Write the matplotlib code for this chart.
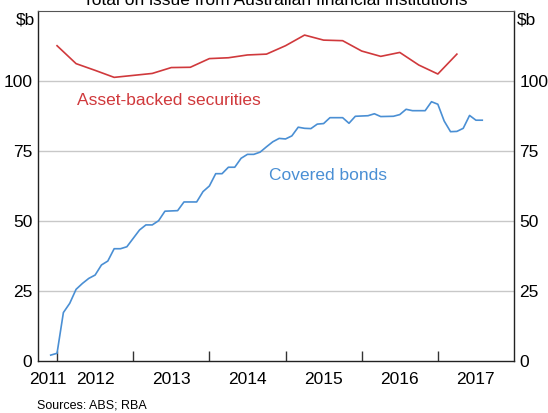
import pandas as pd
import matplotlib
matplotlib.use("Agg")
import matplotlib.pyplot as plt
import numpy as np

plt.rcParams["font.family"] = ["Liberation Sans", "DejaVu Sans"]

# Covered bonds, monthly from Dec 2011 ($b)
covered = [2.1, 2.75, 17.3, 20.6, 25.6, 27.7, 29.5, 30.7, 34.3, 35.7,
           40.1, 40.1, 40.8, 43.8, 46.8, 48.6, 48.6, 50.1, 53.5, 53.6,
           53.7, 56.8, 56.8, 56.8, 60.5, 62.5, 66.9, 66.9, 69.2, 69.2,
           72.4, 73.8, 73.8, 74.6, 76.5, 78.3, 79.5, 79.3, 80.4, 83.5,
           83.1, 83.0, 84.6, 84.8, 86.9, 86.9, 86.9, 84.9, 87.4, 87.5,
           87.6, 88.3, 87.3, 87.35, 87.4, 88.0, 89.9, 89.4, 89.4, 89.4,
           92.6, 91.7, 85.7, 81.9, 82.0, 83.1, 87.7, 86.0, 86.0]
# Asset-backed securities, quarterly from Jan 2012 ($b)
abs_sec = [112.6, 106.2, 103.8, 101.3, 102.0, 102.7, 104.8, 104.9,
           108.0, 108.3, 109.3, 109.6, 112.6, 116.4, 114.6, 114.4,
           110.7, 108.8, 110.2, 105.7, 102.5, 109.6]

years = [2011, 2012, 2013, 2014, 2015, 2016, 2017]
y_ticks = [0, 25, 50, 75, 100]


def to_decimal(dates):
    return np.array([d.year + (d.month - 1) / 12 for d in dates])


cov_x = to_decimal(pd.date_range("2011-12-01", periods=len(covered), freq="MS"))
abs_x = to_decimal(pd.date_range("2012-01-01", periods=len(abs_sec), freq="QS"))

red = "#d0393c"
blue = "#4a8fd4"

fig = plt.figure(figsize=(5.48, 4.13), dpi=100)
ax = fig.add_axes([38 / 548, 1 - 361 / 413, 476 / 548, 350 / 413])

ax.set_xlim(2011.75, 2018.0)
ax.set_ylim(0, 125)

for v in y_ticks[1:]:
    ax.axhline(v, color="#c8c8c8", lw=1.0, zorder=0)

ax.plot(abs_x, abs_sec, color=red, lw=1.2)
ax.plot(cov_x, covered, color=blue, lw=1.2)

ax.text(2012.26, 92.9, "Asset-backed securities", color=red, fontsize=12.5,
        va="center", ha="left")
ax.text(2014.78, 66.1, "Covered bonds", color=blue, fontsize=12.5,
        va="center", ha="left")

# x axis: year boundaries as ticks, labels in the middle of each year
ax.set_xticks(years[1:])
ax.set_xticklabels([])
ax.tick_params(axis="x", which="major", direction="in", length=7,
               width=1, color="#333333")
mids = [2011.875] + [y + 0.5 for y in years[1:]]
ax.set_xticks(mids, minor=True)
ax.set_xticklabels([str(y) for y in years], minor=True)
ax.tick_params(axis="x", which="minor", length=0, pad=8, labelsize=12.5)

ax.set_yticks(y_ticks)
ax.tick_params(axis="y", which="both", length=0, labelsize=12.5,
               left=False, right=False, labelleft=True, labelright=True,
               pad=4)

for side in ["left", "right", "bottom"]:
    ax.spines[side].set_color("#222222")
    ax.spines[side].set_linewidth(1.0)
ax.spines["top"].set_color("#555555")
ax.spines["top"].set_linewidth(0.8)

fig.text(35 / 548, 1 - 20 / 413, "$b", ha="right", va="center", fontsize=12.5)
fig.text(517 / 548, 1 - 20 / 413, "$b", ha="left", va="center", fontsize=12.5)
fig.text(0.502, 1 - 5 / 413, "Total on issue from Australian financial institutions",
         ha="center", va="baseline", fontsize=12.5)
fig.text(37 / 548, 1 - 406 / 413, "Sources: ABS; RBA", ha="left", va="center",
         fontsize=9)

fig.savefig("out.png", dpi=100)
